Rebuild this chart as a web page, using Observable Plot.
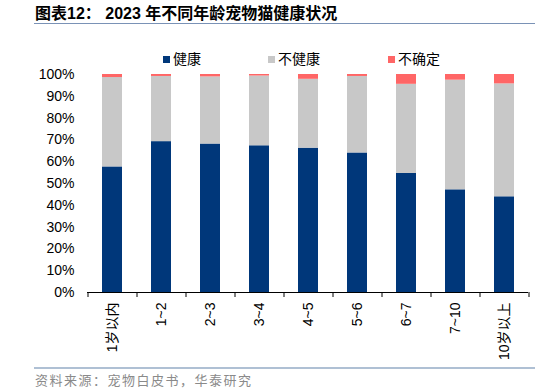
<!DOCTYPE html>
<html><head><meta charset="utf-8">
<script src="https://cdn.jsdelivr.net/npm/d3@7"></script>
<script src="https://cdn.jsdelivr.net/npm/@observablehq/plot@0.6"></script>
<style>
body{margin:0;background:#fff;}
#wrap{position:relative;width:535px;height:392px;overflow:hidden;background:#fff;font-family:"Liberation Sans",Arial,"Noto Sans CJK SC",sans-serif;color:#000;}
#title{position:absolute;left:35px;top:4px;font-size:16px;font-weight:bold;line-height:20px;white-space:nowrap;font-family:"Liberation Sans",Arial,"Noto Sans CJK SC",sans-serif;}
#topline{position:absolute;left:34px;right:0;top:23px;height:0;border-top:1px solid #7A92B6;}
#legend{position:absolute;left:0;top:49px;width:535px;height:18px;font-size:14px;z-index:2;font-family:"Noto Sans CJK SC","Liberation Sans",sans-serif;}
.li{position:absolute;top:0;line-height:18px;white-space:nowrap;}
.sw{display:inline-block;width:7px;height:7px;margin-right:3px;vertical-align:1px;}
#chart{position:absolute;left:0;top:64px;z-index:1;}
#botline{position:absolute;left:34px;right:0;top:367px;height:0;border-top:2px solid #AFC0D4;z-index:2;}
#source{position:absolute;left:35px;top:371px;font-size:13px;line-height:18px;color:#8A8A8A;letter-spacing:1.5px;white-space:nowrap;z-index:2;font-family:"Noto Sans CJK SC",sans-serif;}
</style></head><body>
<div id="wrap">
<div id="title">图表12： 2023 年不同年龄宠物猫健康状况</div>
<div id="topline"></div>
<div id="legend"></div>
<div id="chart"></div>
<div id="botline"></div>
<div id="source">资料来源：宠物白皮书，华泰研究</div>
</div>
<script>
const ages = ["1岁以内", "1~2", "2~3", "3~4", "4~5", "5~6", "6~7", "7~10", "10岁以上"];
const healthy   = [57.6, 69.2, 68.1, 67.3, 66.2, 64.0, 54.6, 47.1, 43.9];
const unhealthy = [41.0, 29.9, 30.8, 32.0, 31.6, 35.1, 40.9, 50.3, 51.8];
const uncertain = [1.4, 0.9, 1.1, 0.7, 2.2, 0.9, 4.5, 2.6, 4.3];
const seriesNames = ["健康", "不健康", "不确定"];
const seriesColors = ["#00377A", "#C8C8C8", "#FF6666"];
const yTicks = [0, 10, 20, 30, 40, 50, 60, 70, 80, 90, 100];

const series = [healthy, unhealthy, uncertain];
const rows = [];
ages.forEach((a, i) => {
  series.forEach((s, k) => rows.push({age: a, series: seriesNames[k], value: s[i]}));
});

// legend
const legendX = [163, 268, 388];
const lg = document.getElementById("legend");
seriesNames.forEach((n, k) => {
  const d = document.createElement("div");
  d.className = "li";
  d.style.left = legendX[k] + "px";
  d.innerHTML = `<span class="sw" style="background:${seriesColors[k]}"></span>${n}`;
  lg.appendChild(d);
});

const W = 535, ML = 87, MR = 7;
const step = (W - ML - MR) / ages.length;

const chart = Plot.plot({
  width: W,
  height: 300,
  marginTop: 10,
  marginBottom: 72,
  marginLeft: ML,
  marginRight: MR,
  style: {fontSize: "14px", fontFamily: '"Liberation Sans", Arial, "Noto Sans CJK SC", sans-serif', background: "transparent", color: "#000"},
  x: {domain: ages, paddingInner: 0.6, paddingOuter: 0.3, label: null},
  y: {domain: [0, 100], ticks: yTicks, label: null},
  color: {domain: seriesNames, range: seriesColors},
  marks: [
    Plot.barY(rows, {x: "age", y: "value", fill: "series", order: seriesNames}),
    Plot.ruleY([0], {stroke: "#000", strokeWidth: 1}),
    Plot.ruleX(ages, {x: d => d, y1: 0, y2: 0, insetBottom: -5, dx: -step / 2, stroke: "#000"}),
    Plot.ruleX([ages[ages.length - 1]], {x: d => d, y1: 0, y2: 0, insetBottom: -5, dx: step / 2, stroke: "#000"}),
    Plot.axisY({ticks: yTicks, tickSize: 0, tickPadding: 13, tickFormat: d => d + "%", label: null}),
    Plot.axisX({tickSize: 0, tickPadding: 10, tickRotate: -90, label: null})
  ]
});
document.getElementById("chart").appendChild(chart);
</script>
</body></html>
